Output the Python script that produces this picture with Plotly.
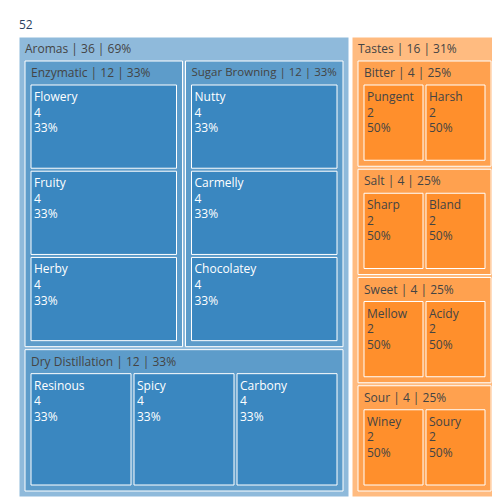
import plotly.graph_objects as go

names = ["Aromas", "Tastes",
         "Enzymatic", "Sugar Browning", "Dry Distillation",
         "Bitter", "Salt", "Sweet", "Sour",
         "Flowery", "Fruity", "Herby",
         "Nutty", "Carmelly", "Chocolatey",
         "Resinous", "Spicy", "Carbony",
         "Pungent", "Harsh", "Sharp", "Bland",
         "Mellow", "Acidy", "Winey", "Soury"]
parents = ["root", "root",
           "Aromas", "Aromas", "Aromas",
           "Tastes", "Tastes", "Tastes", "Tastes",
           "Enzymatic", "Enzymatic", "Enzymatic",
           "Sugar Browning", "Sugar Browning", "Sugar Browning",
           "Dry Distillation", "Dry Distillation", "Dry Distillation",
           "Bitter", "Bitter", "Salt", "Salt",
           "Sweet", "Sweet", "Sour", "Sour"]
values = [36, 16,
          12, 12, 12,
          4, 4, 4, 4,
          4, 4, 4, 4, 4, 4, 4, 4, 4,
          2, 2, 2, 2, 2, 2, 2, 2]
total = 52

val = dict(zip(names, values))
val["root"] = total
ids = ["root"] + names
par = [""] + parents
vals = [total] + values
leaves = set(names) - set(parents)

blue = ["#8fbadb", "#5d9cca", "#3a87c0"]
orange = ["#ffbb80", "#ffa14f", "#ff8f2c"]
blue_set = {"Aromas", "Enzymatic", "Sugar Browning", "Dry Distillation",
            "Flowery", "Fruity", "Herby", "Nutty", "Carmelly", "Chocolatey",
            "Resinous", "Spicy", "Carbony"}

labels = [str(total)]
colors = ["white"]
for n, p in zip(names, parents):
    pct = round(100 * val[n] / val[p])
    depth = 0 if p == "root" else (1 if n not in leaves else 2)
    colors.append((blue if n in blue_set else orange)[depth])
    if n in leaves:
        labels.append(f"{n}<br>{val[n]}<br>{pct}%")
    else:
        labels.append(f"{n} | {val[n]} | {pct}%")

fig = go.Figure(go.Treemap(
    ids=ids, labels=labels, parents=par, values=vals,
    branchvalues="total", textinfo="label",
    marker=dict(colors=colors, line=dict(color="white", width=1)),
    textposition="top left",
    pathbar=dict(visible=False),
))
fig.update_layout(width=500, height=500, margin=dict(l=5, r=5, t=5, b=5),
                  font=dict(family="Open Sans", size=12), paper_bgcolor="white")
fig.write_html("out.html")
